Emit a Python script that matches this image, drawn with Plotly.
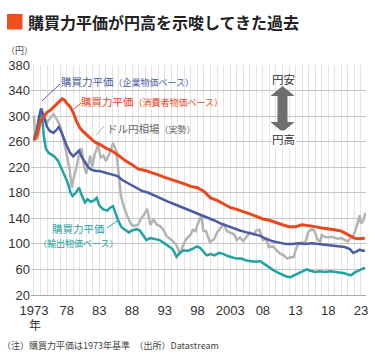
import plotly.graph_objects as go

# ---- data ----
cpi_years = [1973.0, 1973.5, 1974.0, 1974.5, 1975.0, 1975.5, 1976.0, 1976.5, 1977.0, 1977.3, 1977.7,
             1978.0, 1978.5, 1979.0, 1979.5, 1980.0, 1980.5, 1981.0, 1981.5, 1982.0, 1982.5, 1983.0,
             1984.0, 1985.0, 1986.0, 1987.0, 1988.0, 1989.0, 1990.0, 1991.0, 1992.0, 1993.0, 1994.0,
             1995.0, 1996.0, 1997.0, 1998.0, 1999.0, 2000.0, 2001.0, 2002.0, 2003.0, 2004.0, 2005.0,
             2006.0, 2007.0, 2008.0, 2009.0, 2010.0, 2011.0, 2012.0, 2013.0, 2014.0, 2015.0, 2016.0,
             2017.0, 2018.0, 2019.0, 2020.0, 2021.0, 2022.0, 2022.5, 2023.0, 2023.6]
ppp_cpi = [262, 272, 292, 300, 306, 309, 314, 318, 324, 327, 325,
           320, 315, 306, 292, 282, 276, 271, 266, 262, 258, 256,
           250, 245, 238, 230, 224, 217, 215, 212, 208, 204, 201,
           197, 194, 190, 188, 182, 172, 168, 162, 157, 154, 151,
           147, 143, 139, 137, 133, 130, 127, 127, 130, 129, 127,
           125, 124, 122, 120, 115, 109, 108, 108, 109]

cgpi_years = [1973.0, 1973.4, 1973.8, 1974.1, 1974.5, 1975.0, 1975.5, 1976.0, 1976.5, 1976.8, 1977.2,
              1977.6, 1978.0, 1978.5, 1979.0, 1979.5, 1979.9, 1980.3, 1980.8, 1981.3, 1981.8, 1982.5,
              1983.0, 1984.0, 1985.0, 1985.8, 1986.5, 1987.5, 1988.5, 1989.5, 1990.5, 1991.5, 1992.5,
              1993.5, 1994.5, 1995.5, 1996.5, 1997.5, 1998.5, 1999.5, 2000.5, 2001.5, 2002.5, 2003.5,
              2004.5, 2005.5, 2006.5, 2007.5, 2008.5, 2009.5, 2010.5, 2011.5, 2012.5, 2013.5, 2014.5,
              2015.5, 2016.5, 2017.5, 2018.5, 2019.5, 2020.5, 2021.3, 2021.8, 2022.3, 2022.8, 2023.3, 2023.6]
ppp_cgpi = [262, 275, 300, 312, 300, 283, 276, 274, 279, 283, 275,
            264, 254, 243, 237, 242, 246, 236, 228, 220, 216, 214,
            214, 211, 209, 206, 200, 194, 188, 183, 180, 175, 171,
            166, 162, 158, 153, 150, 146, 142, 137, 132, 128, 125,
            121, 118, 116, 113, 108, 104, 102, 100, 100, 101, 100,
            101, 100, 99, 98, 97, 95, 92, 86, 88, 91, 89, 90]

export_years = [1973.0, 1973.5, 1973.9, 1974.2, 1974.5, 1974.8, 1975.2, 1975.7, 1976.2, 1976.7, 1977.2,
                1977.7, 1978.2, 1978.6, 1978.9, 1979.4, 1979.9, 1980.3, 1980.8, 1981.2, 1981.7, 1982.2,
                1982.6, 1983.0, 1983.6, 1984.2, 1984.7, 1985.1, 1985.5, 1985.9, 1986.4, 1986.9, 1987.5,
                1988.0, 1988.7, 1989.2, 1989.7, 1990.2, 1990.8, 1991.5, 1992.2, 1992.8, 1993.5, 1994.2,
                1994.8, 1995.3, 1995.9, 1996.5, 1997.2, 1997.9, 1998.4, 1998.9, 1999.4, 2000.0, 2000.6,
                2001.3, 2002.0, 2002.6, 2003.3, 2004.0, 2004.7, 2005.5, 2006.2, 2007.0, 2007.6, 2008.3,
                2009.0, 2009.6, 2010.3, 2011.0, 2011.6, 2012.2, 2012.8, 2013.3, 2014.0, 2014.7, 2015.3,
                2016.0, 2016.7, 2017.5, 2018.3, 2019.0, 2019.8, 2020.5, 2021.0, 2021.5, 2022.0, 2022.7,
                2023.3, 2023.6]
ppp_export = [265, 280, 300, 307, 270, 250, 243, 240, 236, 230, 218,
              206, 195, 180, 175, 180, 188, 176, 165, 170, 166, 168,
              172, 160, 154, 152, 157, 159, 148, 136, 126, 122, 118,
              121, 123, 121, 113, 106, 109, 108, 106, 102, 97, 92,
              80, 86, 90, 89, 92, 96, 94, 88, 82, 84, 82,
              86, 84, 81, 79, 77, 77, 74, 73, 72, 73, 68,
              62, 59, 55, 52, 49, 48, 51, 54, 57, 60, 58,
              56, 57, 56, 57, 56, 55, 54, 52, 51, 55, 58,
              61, 63]

fx_years = [1973.0, 1973.2, 1973.6, 1974.0, 1974.5, 1975.0, 1975.5, 1976.0, 1976.5, 1977.0, 1977.5,
            1978.0, 1978.4, 1978.8, 1979.0, 1979.5, 1980.0, 1980.3, 1980.6, 1981.0, 1981.6, 1981.9,
            1982.3, 1982.8, 1983.2, 1983.6, 1984.0, 1984.5, 1985.1, 1985.6, 1985.9, 1986.3, 1986.7,
            1987.2, 1987.9, 1988.3, 1988.9, 1989.4, 1989.8, 1990.3, 1990.8, 1991.3, 1991.8, 1992.3,
            1992.8, 1993.3, 1993.8, 1994.3, 1994.8, 1995.3, 1995.7, 1996.3, 1996.9, 1997.3, 1997.7,
            1998.0, 1998.6, 1998.9, 1999.3, 1999.9, 2000.5, 2001.0, 2001.5, 2002.0, 2002.5, 2003.0,
            2003.6, 2004.0, 2004.5, 2005.0, 2005.6, 2006.0, 2006.6, 2007.0, 2007.5, 2008.0, 2008.5,
            2008.9, 2009.5, 2010.0, 2010.6, 2011.2, 2011.7, 2012.2, 2012.7, 2013.0, 2013.4, 2014.0,
            2014.5, 2014.9, 2015.5, 2015.9, 2016.4, 2016.8, 2017.0, 2017.5, 2018.0, 2018.5, 2019.0,
            2019.5, 2020.0, 2020.5, 2021.0, 2021.5, 2021.9, 2022.3, 2022.8, 2023.0, 2023.3, 2023.7]
usdjpy = [301, 265, 265, 290, 300, 290, 297, 303, 295, 285, 265,
          240, 220, 188, 200, 220, 245, 250, 225, 210, 238, 220,
          240, 255, 235, 238, 230, 240, 258, 245, 215, 175, 160,
          145, 130, 128, 130, 140, 145, 155, 130, 138, 130, 128,
          122, 112, 108, 104, 98, 84, 95, 108, 114, 122, 120,
          130, 145, 120, 120, 103, 107, 118, 124, 132, 120, 118,
          115, 106, 110, 104, 112, 118, 115, 121, 122, 106, 108,
          95, 96, 91, 85, 82, 77, 79, 79, 90, 100, 102,
          102, 118, 123, 120, 106, 104, 114, 111, 110, 111, 110,
          108, 109, 106, 104, 110, 114, 126, 145, 132, 135, 149]

tick_vals = [1973, 1978, 1983, 1988, 1993, 1998, 2003, 2008, 2013, 2018, 2023]
tick_text = ["1973", "78", "83", "88", "93", "98", "2003", "08", "13", "18", "23"]

# ---- layout geometry (pixels) ----
W, H = 375, 363
L, R, T, B = 31, 9, 65, 68
PW, PH = W - L - R, H - T - B


def px(x):
    return (x - L) / PW


def py(y):
    return (H - B - y) / PH


RED = "#e9491c"
BLUE = "#4d5ca2"
TEAL = "#1fa3a3"
GRAY = "#b4b4b4"
JP = "Noto Sans CJK JP"

fig = go.Figure()
fig.add_trace(go.Scatter(x=fx_years, y=usdjpy, mode="lines", line=dict(color=GRAY, width=2.5)))
fig.add_trace(go.Scatter(x=export_years, y=ppp_export, mode="lines", line=dict(color=TEAL, width=2.5)))
fig.add_trace(go.Scatter(x=cgpi_years, y=ppp_cgpi, mode="lines", line=dict(color=BLUE, width=2.5)))
fig.add_trace(go.Scatter(x=cpi_years, y=ppp_cpi, mode="lines", line=dict(color=RED, width=3)))

fig.update_layout(
    width=W, height=H,
    margin=dict(l=L, r=R, t=T, b=B),
    plot_bgcolor="white", paper_bgcolor="white",
    showlegend=False,
    font=dict(family="Liberation Sans, Arial, sans-serif", color="#333333"),
    xaxis=dict(
        range=[1972.55, 2023.77], automargin=False,
        tickvals=tick_vals, ticktext=tick_text,
        tickfont=dict(size=13, color="#333333"),
        ticklabelstandoff=3,
        showgrid=True, gridcolor="#e4e4e4", gridwidth=1,
        minor=dict(dtick=1, tick0=1973, showgrid=True, gridcolor="#e4e4e4", gridwidth=1),
        showline=True, linecolor="#a8a8a8", linewidth=1,
        ticks="", zeroline=False,
    ),
    yaxis=dict(
        range=[20, 380], tick0=20, dtick=40, automargin=False,
        tickfont=dict(size=13, color="#333333"),
        showgrid=True, gridcolor="#c6c6c6", gridwidth=1,
        ticks="", zeroline=False, showline=False,
    ),
)

shapes = []
# title square
shapes.append(dict(type="rect", xref="paper", yref="paper",
                   x0=px(7), x1=px(22.5), y0=py(29.5), y1=py(14),
                   fillcolor="#f04e1c", line=dict(width=0)))
# leader lines
for (x0, y0, x1, y1, c) in [(60, 84, 42, 101, BLUE), (81, 103, 74, 109, RED),
                            (104, 126, 96, 135, GRAY), (107, 228, 117, 221, TEAL)]:
    shapes.append(dict(type="line", xref="paper", yref="paper",
                       x0=px(x0), y0=py(y0), x1=px(x1), y1=py(y1),
                       line=dict(color=c, width=1)))
# double arrow
cx = 282.5
pts = [(cx, 86), (cx + 12, 96), (cx + 5, 96), (cx + 5, 122), (cx + 12, 122), (cx, 132),
       (cx - 12, 122), (cx - 5, 122), (cx - 5, 96), (cx - 12, 96)]
path = "M " + " L ".join(f"{px(a):.5f},{py(b):.5f}" for a, b in pts) + " Z"
shapes.append(dict(type="path", xref="paper", yref="paper", path=path,
                   fillcolor="#6e6e6e", line=dict(width=0)))
fig.update_layout(shapes=shapes)

ann = []


def text(x, y, s, size, color, xanchor="left", bg=None, bold=False, fam=JP):
    d = dict(xref="paper", yref="paper", x=px(x), y=py(y), text=("<b>%s</b>" % s) if bold else s,
             showarrow=False, xanchor=xanchor, yanchor="middle", align="center",
             font=dict(family=fam, size=size, color=color), borderpad=0)
    if bg:
        d["bgcolor"] = bg
    ann.append(d)


text(27, 22, "購買力平価が円高を示唆してきた過去", 16, "#222222", bold=True)
text(5, 51, "（円）", 9, "#555555")
text(60, 81, "購買力平価<span style='font-size:9px'>（企業物価ベース）</span>", 10.5, BLUE)
text(80, 101, "購買力平価<span style='font-size:9px'>（消費者物価ベース）</span>", 10.5, RED)
text(106, 128, "ドル円相場<span style='font-size:9px'>（実勢）</span>", 10.5, "#666666")
text(78, 236, "購買力平価<br><span style='font-size:9px'>（輸出物価ベース）</span>", 10.5, TEAL,
     xanchor="center")
text(283, 79, "円安", 11.5, "#333333", xanchor="center")
text(283, 139, "円高", 11.5, "#333333", xanchor="center", bg="white")
text(35, 324, "年", 12, "#333333", xanchor="center")
text(1, 345, "（注）購買力平価は1973年基準　（出所）Datastream", 9, "#444444")
fig.update_layout(annotations=ann)

fig.write_html("out.html", config={"displayModeBar": False},
               post_script="document.body.style.margin='0';document.body.style.padding='0';")
